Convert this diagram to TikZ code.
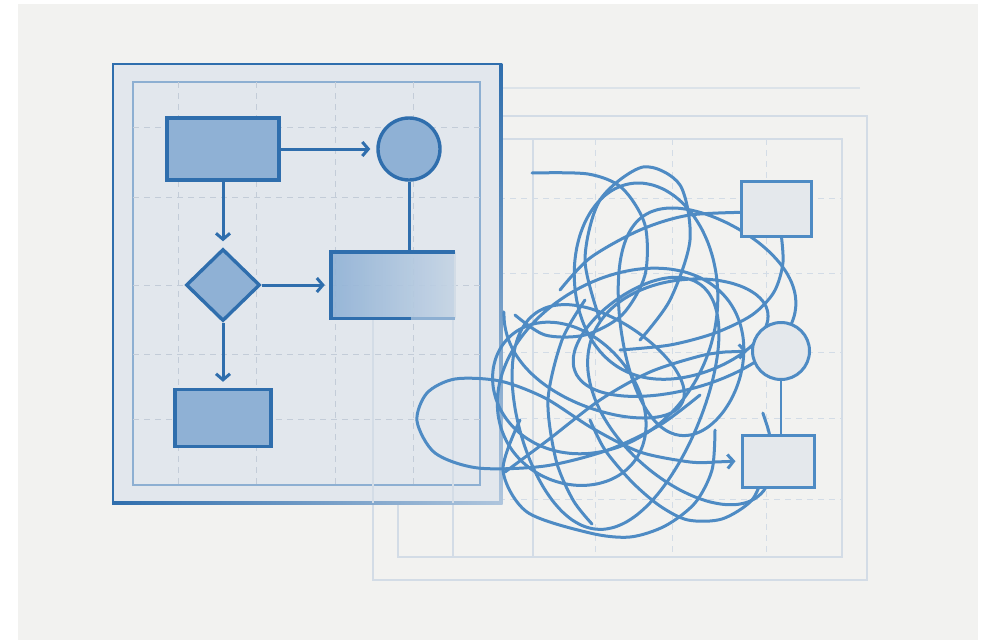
\documentclass[tikz,border=0pt]{standalone}
\usepackage{tikz}
\usetikzlibrary{arrows.meta,shapes.geometric}
\pgfdeclarelayer{background}
\pgfsetlayers{background,main}

\definecolor{paper}{HTML}{F2F2F0}
\definecolor{inkblue}{HTML}{2F6EAD}
\definecolor{boxfill}{HTML}{8FB1D5}
\definecolor{panelfill}{HTML}{E2E7ED}
\definecolor{panelrule}{HTML}{8DAFD2}
\definecolor{gridrule}{HTML}{C3CCD8}
\definecolor{ghostrule}{HTML}{D3DCE6}
\definecolor{scribble}{HTML}{4E8BC4}
\definecolor{ghostfill}{HTML}{E4E8EC}

\tikzset{
  blk/.style={rectangle, draw=inkblue, fill=boxfill, line width=3.4pt, inner sep=0pt},
  rnd/.style={blk, circle, minimum size=62pt},
  dia/.style={blk, diamond, minimum width=74pt, minimum height=72pt},
  wire/.style={draw=inkblue, line width=3pt, shorten >=6pt, -{Straight Barb[length=6pt,width=14pt]}},
  gbox/.style={rectangle, draw=scribble, fill=ghostfill, line width=3pt, inner sep=0pt},
  tangle/.style={draw=scribble, line width=3pt, line cap=round, line join=round},
  grid dash/.style={draw=gridrule, line width=1pt, dash pattern=on 6pt off 5pt},
}

\begin{document}
\begin{tikzpicture}[x=1pt,y=-1pt]
  \useasboundingbox (0,0) rectangle (990,640);

  % clean flow chart
  \node[blk, minimum width=112pt, minimum height=62pt] (ra) at (223,149) {};
  \node[rnd] (ca) at (409,149) {};
  \node[dia] (da) at (223,285) {};
  \node[rectangle, inner sep=0pt, minimum width=124pt, minimum height=66pt,
        left color=boxfill, right color=boxfill!35!panelfill, fill opacity=0.9] (rb) at (393,285) {};
  \draw[ghostrule, line width=2pt] (rb.north east) -- (rb.south east);
  \draw[panelrule, line width=3.4pt] ([xshift=80pt]rb.south west) -- (rb.south east);
  \draw[inkblue, line width=3.4pt] ([xshift=80pt]rb.south west) -- (rb.south west)
    -- (rb.north west) -- (rb.north east);
  \node[blk, minimum width=96pt, minimum height=57pt] (rc) at (223,418) {};

  \draw[wire] (ra.east) -- (ca.west);
  \draw[wire] (ra.south) -- (da.north);
  \draw[wire] (da.east) -- (rb.west);
  \draw[wire] (da.south) -- (rc.north);
  \draw[draw=inkblue, line width=3pt] (ca.south) -- (ca.south |- rb.north);

  % messy side
  \node[gbox, minimum width=70pt, minimum height=55pt] (sa) at (776,209) {};
  \node[gbox, circle, minimum size=57pt] (cb) at (781,351) {};
  \node[gbox, minimum width=72pt, minimum height=52pt] (sb) at (778,461) {};
  \draw[draw=scribble, line width=2.8pt] (cb.south) -- (cb.south |- sb.north);

  \begin{pgfonlayer}{background}
    \fill[white] (0,0) rectangle (990,640);
    \fill[paper] (18,4) rectangle (978,640);

    % back sheet
    \draw[ghostrule!70!paper, line width=1.6pt] (502,88) -- (860,88);
    \draw[ghostrule, line width=2pt] (502,116) -- (867,116) -- (867,580) -- (373,580) -- (373,300);
    \draw[ghostrule, line width=1.6pt] (502,139) -- (842,139) -- (842,557) -- (398,557) -- (398,485);
    \foreach \gx in {453,533}
      \draw[ghostrule, line width=1.4pt] (\gx,139) -- (\gx,557);
    \foreach \gx in {595,672,766}
      \draw[grid dash, draw=ghostrule] (\gx,139) -- (\gx,557);
    \foreach \gy in {198,273,352,418,499}
      \draw[grid dash, draw=ghostrule] (455,\gy) -- (842,\gy);

    % front sheet
    \fill[panelfill] (113,64) rectangle (501,503);
    \shade[top color=inkblue, bottom color=panelrule!60!panelfill] (499.6,63) rectangle (502.4,504);
    \shade[left color=inkblue, right color=panelrule!60!panelfill] (112,501.6) rectangle (502.4,504.4);
    \draw[inkblue, line width=2.8pt] (502.4,64) -- (113,64) -- (113,503);
    \draw[panelrule, line width=2pt] (133,82) rectangle (480,485);
    \foreach \gx in {178,256,335,413}
      \draw[grid dash] (\gx,82) -- (\gx,485);
    \foreach \gy in {127,197,285,354,419}
      \draw[grid dash] (133,\gy) -- (480,\gy);
    \draw[ghostrule, line width=1.6pt] (373,318) -- (373,503) (453,318) -- (453,503);

    % the tangle
    \draw[tangle] plot[domain=0:2700, samples=340, smooth, variable=\t]
      ({635+62*sin(0.23*\t+40)+(88+22*sin(0.61*\t))*cos(\t)+20*sin(\t)*cos(0.41*\t)},
       {352+62*sin(0.31*\t+100)+(92+25*cos(0.47*\t+30))*sin(\t)+18*cos(\t)*sin(0.33*\t)});
    \draw[tangle] plot[smooth] coordinates {(532,173) (588,174) (622,188) (645,225) (645,275) (622,315) (585,335) (545,335) (515,315)};
    \draw[tangle] plot[smooth] coordinates {(600,320) (585,260) (600,200) (643,167) (680,185) (690,240) (670,300) (640,340)};
    \draw[tangle] plot[smooth] coordinates {(585,300) (562,340) (548,400) (556,460) (573,500) (592,524)};
    \draw[tangle] plot[smooth] coordinates {(520,420) (503,470) (527,512) (590,533) (630,537) (665,526) (695,503) (712,470) (715,430)};
    \draw[tangle] plot[smooth] coordinates {(765,470) (752,500) (722,519) (688,520) (660,506) (632,482) (605,450) (590,420)};
    \draw[tangle] plot[smooth] coordinates {(780,225) (783,262) (774,292) (752,315) (715,333) (670,345) (620,350)};
    \draw[tangle] plot[smooth] coordinates {(560,290) (590,258) (640,230) (690,215) (760,212)};
    \draw[tangle, shorten >=4pt, -{Straight Barb[length=6pt,width=14pt]}]
      plot[smooth] coordinates {(505,472) (548,440) (600,400) (650,372) (700,356) (725,352)} -- (cb.west);
    \draw[tangle, shorten >=5pt, -{Straight Barb[length=6pt,width=14pt]}]
      plot[smooth] coordinates {(700,395) (660,425) (608,450) (545,466) (478,468) (435,453) (417,421) (427,393) (455,379) (500,381) (545,398) (592,428) (640,452) (690,462) (715,462)} -- (sb.west);
  \end{pgfonlayer}
\end{tikzpicture}
\end{document}
